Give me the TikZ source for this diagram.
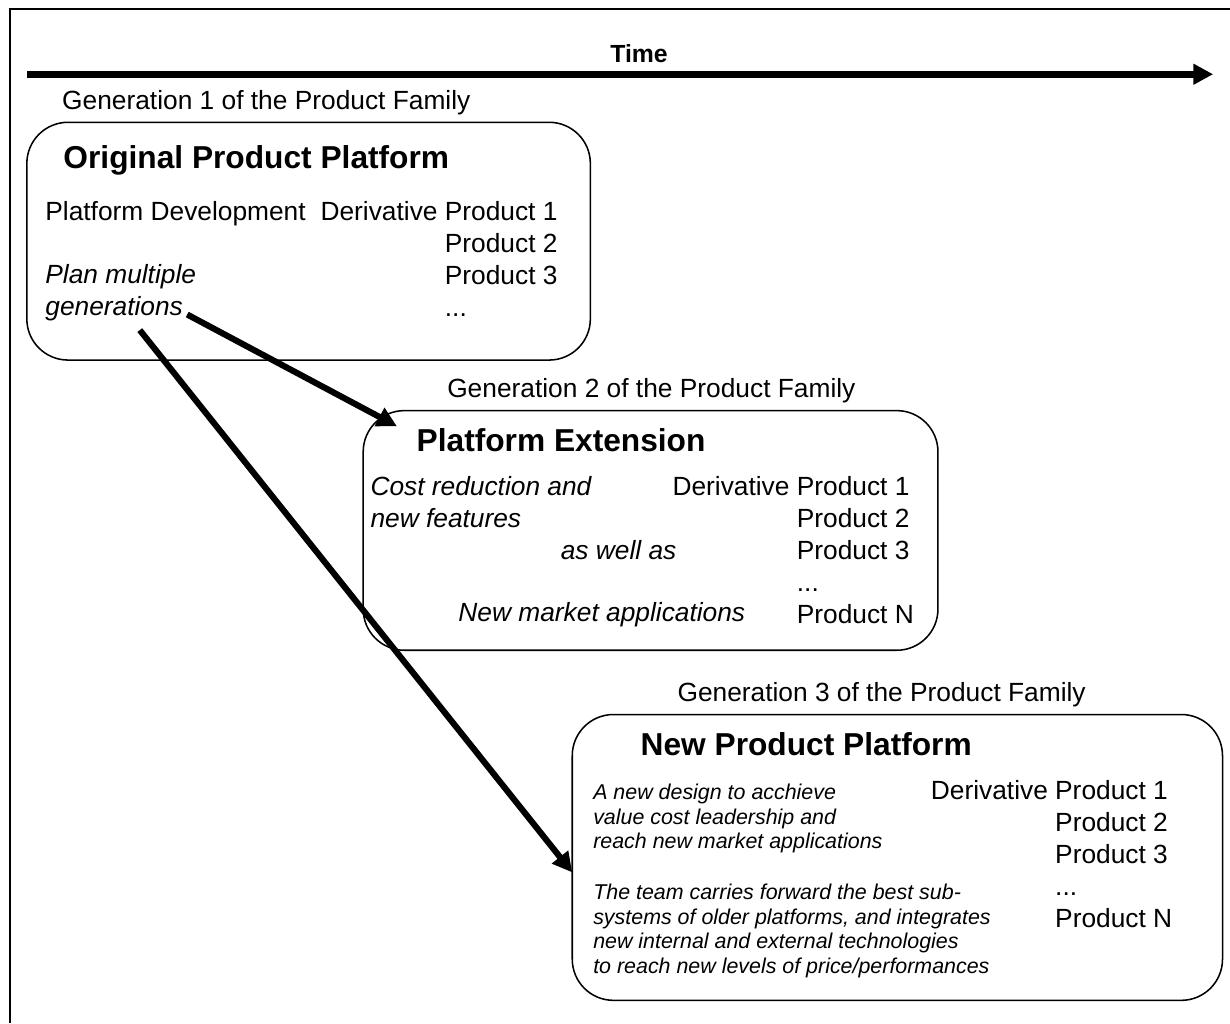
\documentclass[tikz,border=0pt]{standalone}
\usepackage{fontspec}
\setmainfont{Liberation Sans}
\usetikzlibrary{arrows.meta}

\begin{document}
\begin{tikzpicture}[
	platform/.style={draw, line width=0.7pt, rounded corners=0.66cm},
	lbl/.style={anchor=base west, inner sep=0pt, font=\fontsize{12}{14.6}\selectfont},
	head/.style={anchor=base west, inner sep=0pt, font=\fontsize{14.45}{17}\selectfont\bfseries},
	note/.style={anchor=base west, inner sep=0pt, font=\fontsize{9.76}{11.3}\selectfont\itshape},
	fat arrow/.style={line width=2.8pt, -{Triangle[length=9pt,width=9pt]}}
	]
			\useasboundingbox (0,0) rectangle (19.71,16.40);
			\coordinate (F1) at (0.16,0);
			\coordinate (F2) at (0.16,16.25);
			\coordinate (F3) at (19.71,16.25);
			\draw[line width=0.9pt] (F1) -- (F2) -- (F3);
			% time axis
			\coordinate (T0) at (0.43,15.21);
			\coordinate (T1) at (19.44,15.21);
			\draw[fat arrow, line width=3pt] (T0) -- (T1);
			\node[anchor=base, inner sep=0pt, font=\fontsize{11.3}{13}\selectfont\bfseries] (time) at (10.24,15.40) {Time};
			% generation 1
			\draw[platform] (0.43,10.63) rectangle (9.46,14.44);
			\node[lbl] (gen1) at (0.99,14.65) {Generation 1 of the Product Family};
			\node[head] (orig) at (1.01,13.70) {Original Product Platform};
			\node[lbl] (dev) at (0.72,12.87) {Platform Development};
			\node[lbl] (plan) at (0.72,11.86) {\itshape\begin{tabular}[t]{@{}l@{}}Plan multiple\\generations\end{tabular}};
			\node[lbl] (prodA) at (5.13,12.87) {\begin{tabular}[t]{@{}r@{\ }l@{}}Derivative & Product 1\\ & Product 2\\ & Product 3\\ & ...\end{tabular}};
			% generation 2
			\draw[platform] (5.82,5.98) rectangle (15.03,9.82);
			\node[lbl] (gen2) at (7.16,10.03) {Generation 2 of the Product Family};
			\node[head] (ext) at (6.67,9.17) {Platform Extension};
			\node[lbl] (cost) at (5.93,8.46) {\itshape\begin{tabular}[t]{@{}l@{}}Cost reduction and\\new features\end{tabular}};
			\node[lbl] (aswell) at (8.98,7.44) {\itshape as well as};
			\node[lbl] (market) at (7.34,6.44) {\itshape New market applications};
			\node[lbl] (prodB) at (10.77,8.46) {\begin{tabular}[t]{@{}r@{\ }l@{}}Derivative & Product 1\\ & Product 2\\ & Product 3\\ & ...\\ & Product N\end{tabular}};
			% generation 3
			\draw[platform] (9.17,0.37) rectangle (19.59,4.95);
			\node[lbl] (gen3) at (10.85,5.16) {Generation 3 of the Product Family};
			\node[head] (new) at (10.26,4.30) {New Product Platform};
			\node[note] (design) at (9.50,3.59) {\begin{tabular}[t]{@{}l@{}}A new design to acchieve\\value cost leadership and\\reach new market applications\end{tabular}};
			\node[note] (team) at (9.50,1.99) {\begin{tabular}[t]{@{}l@{}}The team carries forward the best sub-\\systems of older platforms, and integrates\\new internal and external technologies\\to reach new levels of price/performances\end{tabular}};
			\node[lbl] (prodC) at (14.91,3.59) {\begin{tabular}[t]{@{}r@{\ }l@{}}Derivative & Product 1\\ & Product 2\\ & Product 3\\ & ...\\ & Product N\end{tabular}};
			% generations arrows
			\coordinate (A1) at (3.00,11.36);
			\coordinate (B1) at (6.36,9.57);
			\coordinate (A2) at (2.24,11.11);
			\coordinate (B2) at (9.17,2.42);
			\draw[fat arrow] (A1) -- (B1);
			\draw[fat arrow] (A2) -- (B2);
		\end{tikzpicture}
\end{document}
